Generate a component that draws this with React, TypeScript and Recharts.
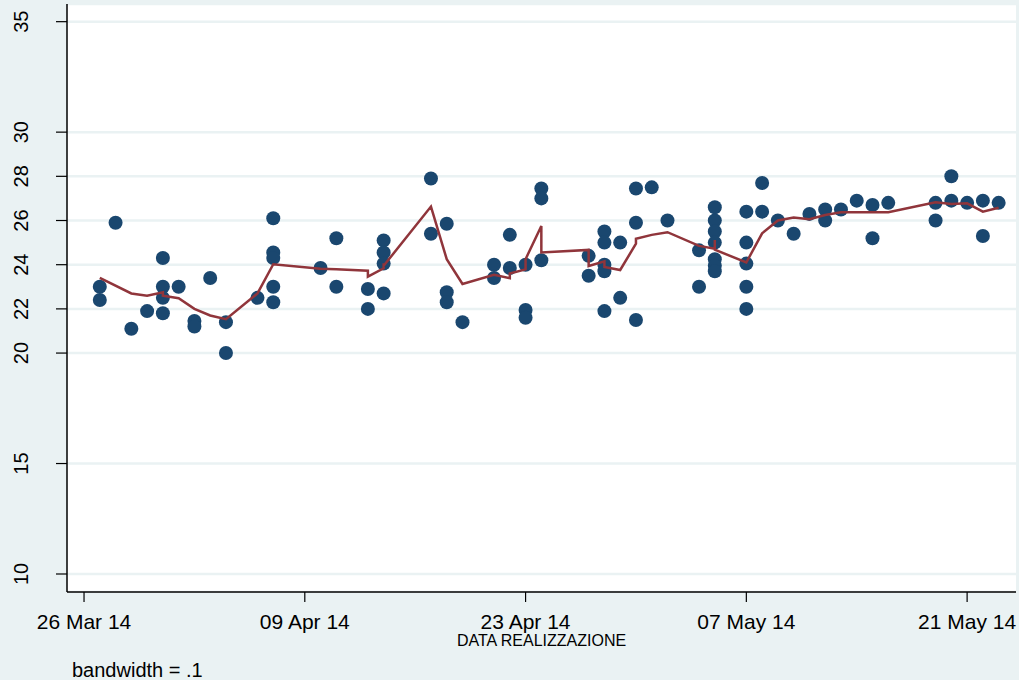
import React from 'react';
import { ComposedChart, Scatter, XAxis, YAxis, CartesianGrid } from 'recharts';

// days since 26 Mar 14
const obsDay = [
  1, 1, 2, 3, 4, 5, 5, 5, 5, 6, 7, 7, 8, 9, 9, 11, 12, 12, 12, 12, 12,
  15, 16, 16, 18, 18, 19, 19, 19, 19, 22, 22, 23, 23, 23, 24,
  26, 26, 27, 27, 28, 28, 28, 29, 29, 29, 32, 32, 33, 33, 33, 33, 33,
  34, 34, 35, 35, 35, 36, 37, 39, 39, 40, 40, 40, 40, 40, 40, 40,
  42, 42, 42, 42, 42, 43, 43, 44, 45, 46, 47, 47, 48, 49, 50, 50, 51,
  54, 54, 55, 55, 56, 57, 57, 58,
];
const obsValue = [
  23.0, 22.4, 25.9, 21.1, 21.9, 24.3, 23.0, 22.5, 21.8, 23.0, 21.45, 21.2, 23.4, 21.4, 20.0, 22.5, 26.1, 24.55, 24.3, 23.0, 22.3,
  23.85, 25.2, 23.0, 22.9, 22.0, 25.1, 24.55, 24.05, 22.7, 27.9, 25.4, 25.85, 22.75, 22.3, 21.4,
  24.0, 23.4, 25.35, 23.85, 24.0, 21.95, 21.6, 27.45, 27.0, 24.2, 24.4, 23.5, 25.5, 25.0, 24.0, 23.7, 21.9,
  25.0, 22.5, 27.45, 25.9, 21.5, 27.5, 26.0, 24.65, 23.0, 26.6, 26.0, 25.5, 25.0, 24.25, 23.95, 23.7,
  26.4, 25.0, 24.05, 23.0, 22.0, 27.7, 26.4, 26.0, 25.4, 26.3, 26.5, 26.0, 26.5, 26.9, 26.7, 25.2, 26.8,
  26.8, 26.0, 28.0, 26.9, 26.8, 26.9, 25.3, 26.8,
];

// lowess smooth (bandwidth .1)
const lowessDay = [
  1, 3, 4, 5, 5, 6, 7, 8, 9, 11, 12, 15, 16, 18, 18, 19, 19, 19, 22, 23, 24,
  26, 27, 27, 28, 28, 29, 29, 32, 32, 33, 33, 34, 35, 35, 36, 37, 39, 40, 40, 40,
  42, 43, 44, 45, 46, 47, 48, 49, 50, 51, 54, 55, 56, 57, 58,
];
const lowessValue = [
  23.4, 22.7, 22.6, 22.75, 22.6, 22.48, 22.0, 21.7, 21.53, 22.7, 24.02, 23.82, 23.79, 23.73, 23.46, 23.84, 24.07, 23.95, 26.63, 24.25, 23.13,
  23.54, 23.39, 23.6, 23.79, 24.25, 25.75, 24.55, 24.67, 23.94, 24.15, 23.9, 23.76, 24.95, 25.17, 25.35, 25.47, 24.85, 24.72, 25.12, 24.68,
  24.1, 25.42, 26.0, 26.14, 26.06, 26.25, 26.37, 26.37, 26.37, 26.37, 26.83, 26.75, 26.78, 26.4, 26.58,
];

const xTicks = [0, 14, 28, 42, 56];
const xTickLabels = ['26 Mar 14', '09 Apr 14', '23 Apr 14', '07 May 14', '21 May 14'];
const yTicks = [10, 15, 20, 22, 24, 26, 28, 30, 35];

const FONT = '"Liberation Sans", Arial, Helvetica, sans-serif';

const points = obsDay.map((d, i) => ({ x: d, y: obsValue[i] }));
const lowess = lowessDay.map((d, i) => ({ x: d, y: lowessValue[i] }));

const XTick = (props: any) => {
  const { x, payload } = props;
  const i = xTicks.indexOf(payload.value);
  return (
    <text x={x} y={629} textAnchor="middle" fontSize={21} fontFamily={FONT} fill="#000">
      {xTickLabels[i]}
    </text>
  );
};

const YTick = (props: any) => {
  const { y, payload } = props;
  return (
    <text x={28} y={y} transform={`rotate(-90 28 ${y})`} textAnchor="middle" fontSize={20} fontFamily={FONT} fill="#000">
      {payload.value}
    </text>
  );
};

const BottomText = (props: any) => {
  const vb = props.viewBox || { x: 67, y: 592, width: 949 };
  return (
    <g>
      <text x={vb.x + vb.width / 2} y={646} textAnchor="middle" fontSize={16} fontFamily={FONT} fill="#000">
        DATA REALIZZAZIONE
      </text>
      <text x={72} y={677} fontSize={20} fontFamily={FONT} fill="#000">
        bandwidth = .1
      </text>
    </g>
  );
};

const Dot = (p: any) => <circle cx={p.cx} cy={p.cy} r={7} fill="#1a476f" />;
const NoDot = () => <g />;

export default function App() {
  return (
    <div style={{ position: 'absolute', left: 0, top: 0, width: 1019, height: 680, background: '#eaf2f3' }}>
      <ComposedChart width={1019} height={680} margin={{ top: 4, right: 3, bottom: 0, left: 0 }}>
        <CartesianGrid vertical={false} fill="#ffffff" stroke="#eaf2f3" strokeWidth={2.5} />
        <XAxis
          type="number"
          dataKey="x"
          domain={[-1.08, 59.1]}
          ticks={xTicks}
          allowDataOverflow
          height={88}
          tickSize={10}
          axisLine={{ stroke: '#000', strokeWidth: 1.5 }}
          tickLine={{ stroke: '#000', strokeWidth: 1.2 }}
          tick={<XTick />}
          label={<BottomText />}
        />
        <YAxis
          type="number"
          dataKey="y"
          domain={[9.185, 35.8]}
          ticks={yTicks}
          allowDataOverflow
          width={67}
          tickSize={11}
          axisLine={{ stroke: '#000', strokeWidth: 1.5 }}
          tickLine={{ stroke: '#000', strokeWidth: 1.2 }}
          tick={<YTick />}
        />
        <Scatter data={points} shape={Dot} isAnimationActive={false} />
        <Scatter
          data={lowess}
          shape={NoDot}
          line={{ stroke: '#90353b', strokeWidth: 2.5 }}
          lineType="joint"
          isAnimationActive={false}
        />
      </ComposedChart>
    </div>
  );
}
